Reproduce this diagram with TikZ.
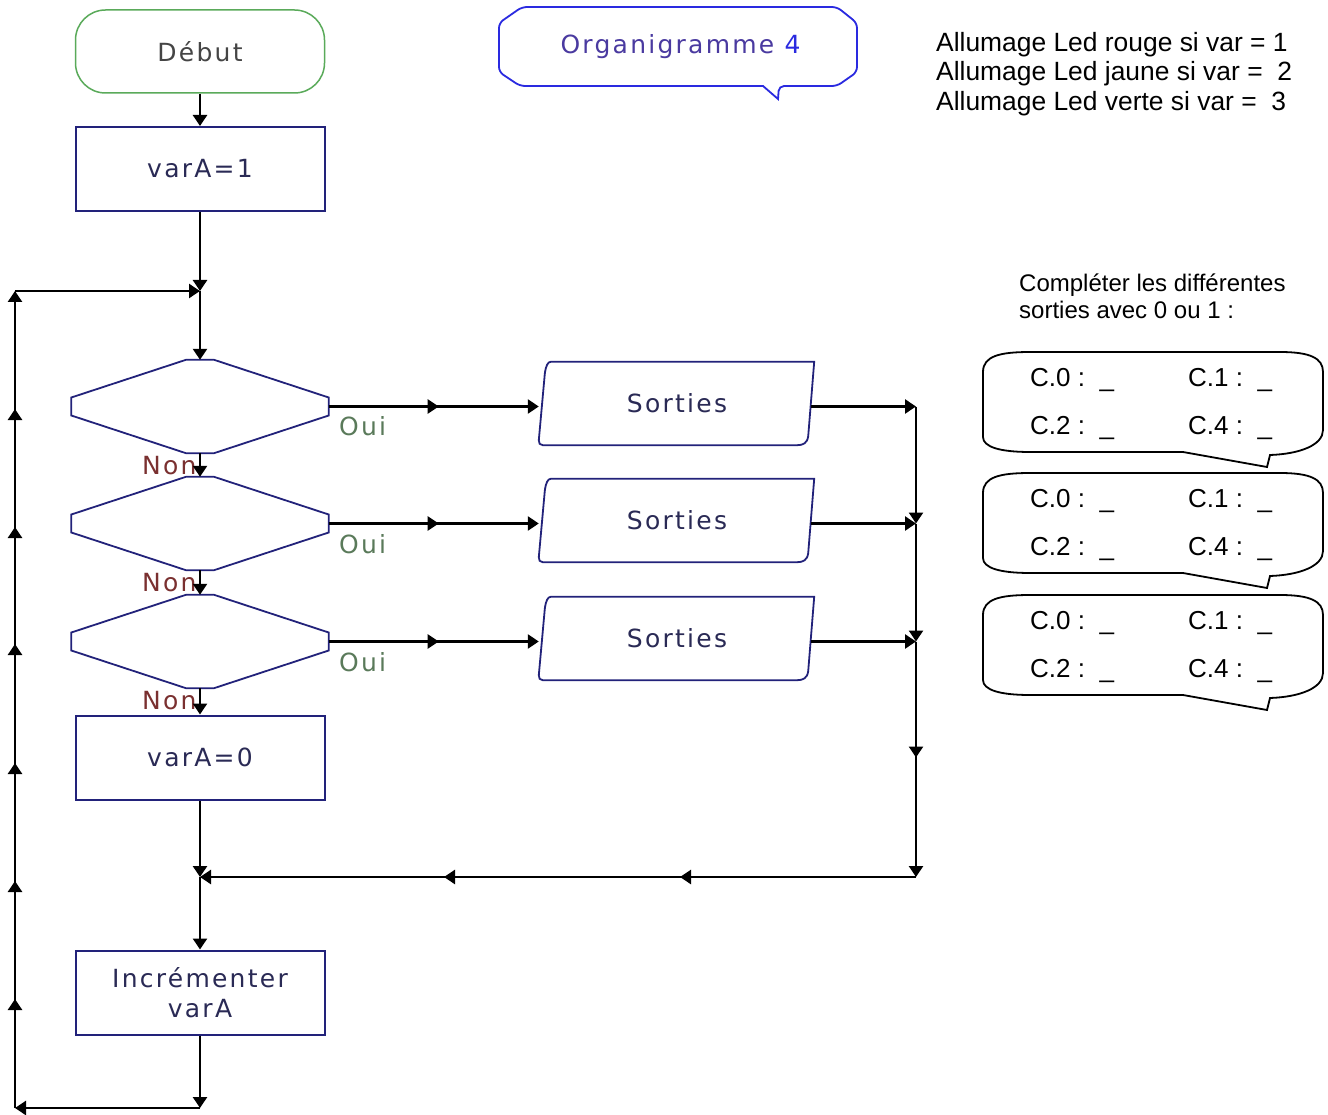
\documentclass[tikz,border=0pt]{standalone}
\usepackage{fontspec}
\setmainfont{Liberation Sans}
\newfontfamily\vfont[LetterSpace=9]{DejaVu Sans}
\usetikzlibrary{arrows.meta,decorations.markings,calc}
\definecolor{navy}{HTML}{22227A}
\definecolor{boxtext}{HTML}{2A2A55}
\definecolor{startgreen}{HTML}{5AAA5A}
\definecolor{starttext}{HTML}{454545}
\definecolor{ouicol}{HTML}{5A7A5A}
\definecolor{noncol}{HTML}{7A3030}
\definecolor{titleblue}{HTML}{2A2AE0}
\definecolor{titletext}{HTML}{4A3AA0}
\begin{document}
\begin{tikzpicture}[x=1pt,y=-1pt,
  >={Triangle[width=14pt,length=11pt]},
  flowtxt/.style={font=\vfont\fontsize{25}{30}\selectfont},
  box/.style={draw=navy, line width=2pt, minimum width=249pt, minimum height=84pt,
    inner sep=0pt, flowtxt, text=boxtext, align=center},
  startbox/.style={draw=startgreen, line width=1.5pt, rounded corners=30pt,
    minimum width=249pt, minimum height=83pt, inner sep=0pt, flowtxt, text=starttext},
  hidden/.style={draw=none, inner sep=0pt},
  dshape/.style={draw=navy, line width=1.8pt},
  flow/.style={line width=2.5pt, ->},
  midarr/.style={postaction={decorate,decoration={markings,mark=at position #1 with {\arrow{>}}}}},
  oui/.style={flowtxt, text=ouicol, anchor=west, inner sep=0pt},
  non/.style={flowtxt, text=noncol, anchor=west, inner sep=0pt},
  ctext/.style={font=\fontsize{26}{30}\selectfont, anchor=base west, inner sep=0pt}
]
\useasboundingbox[fill=white] (0,0) rectangle (1328,1115);

% ---- main column nodes
\node[startbox] (deb) at (200,51.5) {Début};
\node[box] (v1) at (200,169) {varA=1};
\foreach \i/\y in {1/406.5,2/523.5,3/641.5}{
  \node[hidden, minimum width=257pt, minimum height=93pt] (d\i) at (200,\y) {};
  \draw[dshape] ($(d\i.west)+(0,-9)$) -- ($(d\i.north)+(-14,0)$) -- ($(d\i.north)+(14,0)$)
    -- ($(d\i.east)+(0,-9)$) -- ($(d\i.east)+(0,9)$) -- ($(d\i.south)+(14,0)$)
    -- ($(d\i.south)+(-14,0)$) -- ($(d\i.west)+(0,9)$) -- cycle;
  \node[hidden, minimum width=276pt, minimum height=83pt, flowtxt, text=boxtext] (s\i) at (677,\y-3) {Sorties};
  \draw[dshape] ($(s\i.north west)+(12,0)$) -- ($(s\i.north east)+(-1,0)$)
    -- ($(s\i.south east)+(-7,-9)$) .. controls ($(s\i.south east)+(-8,-2)$) and ($(s\i.south east)+(-12,0)$) .. ($(s\i.south east)+(-18,0)$)
    -- ($(s\i.south west)+(4,0)$) .. controls ($(s\i.south west)+(1,0)$) and ($(s\i.south west)+(0,-2)$) .. ($(s\i.south west)+(0,-5)$)
    -- ($(s\i.north west)+(6,12)$) .. controls ($(s\i.north west)+(7,4)$) and ($(s\i.north west)+(9,0)$) .. cycle;
}
\node[oui] (o1) at (339,426) {Oui};
\node[oui] (o2) at (339,544) {Oui};
\node[oui] (o3) at (339,662) {Oui};
\node[non] (n1) at (142,466) {Non};
\node[non] (n2) at (142,583) {Non};
\node[non] (n3) at (142,701) {Non};
\node[box] (v0) at (200,757.5) {varA=0};
\node[box] (inc) at (200,992.5) {Incrémenter\\varA};

\coordinate (j1) at (200,291);
\coordinate (j2) at (200,877);
\coordinate (b1) at (200,1108);
\coordinate (l2) at (15,1108);
\coordinate (l1) at (15,291);
\coordinate (r1) at (916,406.5);
\coordinate (r2) at (916,523.5);
\coordinate (r3) at (916,641.5);
\coordinate (r4) at (916,877);

% ---- connectors
\draw[flow] (deb) -- (v1);
\draw[flow] (v1) -- (j1);
\draw[flow] (j1) -- (d1.north);
\draw[flow] (d1.south) -- (d2.north);
\draw[flow] (d2.south) -- (d3.north);
\draw[flow] (d3.south) -- (v0);
\draw[flow] (v0) -- (j2);
\draw[flow] (j2) -- (inc);
\draw[flow] (inc) -- (b1);
\draw[flow] (b1) -- (l2);
\draw[flow,midarr=109pt,midarr=227pt,midarr=345pt,midarr=464pt,midarr=581pt,midarr=699pt] (l2) -- (l1);
\draw[flow] (l1) -- (j1);
\foreach \i in {1,2,3}{
  \draw[flow,midarr=110pt] (d\i.east) -- (d\i.east -| s\i.west);
}
\draw[flow] ($(d1.east -| s1.east)+(-4,0)$) -- (r1);
\draw[flow] ($(d2.east -| s2.east)+(-4,0)$) -- (r2);
\draw[flow] ($(d3.east -| s3.east)+(-4,0)$) -- (r3);
\draw[flow] (r1) -- (r2);
\draw[flow] (r2) -- (r3);
\draw[flow,midarr=116pt] (r3) -- (r4);
\draw[flow,midarr=236pt,midarr=472pt] (r4) -- (j2);

% ---- title callout
\draw[titleblue, line width=1.8pt, rounded corners=5pt]
  (522,7) -- (837,7) -- (857,23) -- (857,72) -- (837,86) -- (779,86)
  [sharp corners] -- (778,99) -- (763,86) [rounded corners=5pt] -- (520,86) -- (499,72) -- (499,23) -- cycle;
\node[inner sep=0pt, font=\vfont\fontsize{25}{30}\selectfont] (title) at (680.5,47)
  {\textcolor{titletext}{Organigramme} \textcolor{titleblue}{4}};

% ---- right texts
\node[anchor=north west, inner sep=0pt, align=left, font=\fontsize{26.4}{29.5}\selectfont] (legend) at (936,32)
  {Allumage Led rouge si var = 1\\Allumage Led jaune si var = \ 2\\Allumage Led verte si var = \ 3};
\node[anchor=north west, inner sep=0pt, align=left, font=\fontsize{24}{27}\selectfont] (consigne) at (1019,274)
  {Compléter les différentes\\sorties avec 0 ou 1 :};

\foreach \n/\T in {1/352,2/473,3/595}{
  \draw[line width=1.8pt]
    (983,\T+20) .. controls (983,\T+4) and (1000,\T) .. (1030,\T) -- (1280,\T)
    .. controls (1310,\T) and (1323,\T+6) .. (1323,\T+20) -- (1323,\T+78)
    .. controls (1323,\T+93) and (1300,\T+102) .. (1270,\T+103) -- (1267,\T+115) -- (1183,\T+100)
    -- (1030,\T+100) .. controls (1000,\T+100) and (983,\T+95) .. (983,\T+85) -- cycle;
  \node[ctext] (c\n a) at (1030,\T+34) {C.0 :\ \ \_};
  \node[ctext] (c\n b) at (1188,\T+34) {C.1 :\ \ \_};
  \node[ctext] (c\n c) at (1030,\T+82) {C.2 :\ \ \_};
  \node[ctext] (c\n d) at (1188,\T+82) {C.4 :\ \ \_};
}
\end{tikzpicture}
\end{document}
